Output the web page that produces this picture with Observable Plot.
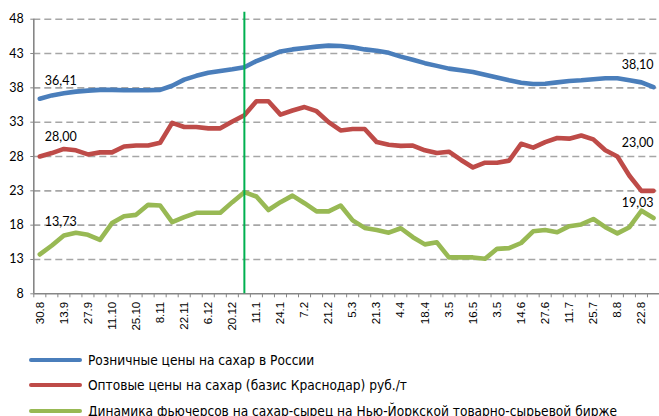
<!DOCTYPE html>
<html><head><meta charset="utf-8">
<script src="https://cdn.jsdelivr.net/npm/d3@7"></script>
<script src="https://cdn.jsdelivr.net/npm/@observablehq/plot@0.6"></script>
<style>
body{margin:0;background:#fff;}
#chart svg{display:block;overflow:visible;}
.legend{font-family:"Liberation Sans Narrow","DejaVu Sans Condensed",sans-serif;font-size:13.6px;color:#000;padding-top:2px;}
.row{display:flex;align-items:center;height:25.5px;}
.sw{width:53px;height:4px;border-radius:2px;margin-left:29px;margin-right:6px;}
</style></head><body>
<div id="chart"></div>
<div class="legend" id="legend"></div>
<script>
// Category tick labels (shown on every other weekly category)
const tickLabels = ["30.8","13.9","27.9","11.10","25.10","8.11","22.11","6.12","20.12","11.1","24.1","7.2","21.2","5.3","21.3","4.4","18.4","3.5","16.5","3.5","14.6","27.6","11.7","25.7","8.8","22.8"];
const categoryCount = 52;
const yTicks = [8,13,18,23,28,33,38,43,48];

// Series values, weekly
const retail = [36.41,36.9,37.2,37.45,37.6,37.7,37.7,37.65,37.65,37.65,37.7,38.3,39.2,39.75,40.2,40.45,40.7,41.0,41.9,42.6,43.3,43.6,43.8,44.0,44.15,44.1,43.9,43.6,43.4,43.1,42.55,42.1,41.6,41.2,40.8,40.55,40.3,39.9,39.5,39.1,38.75,38.55,38.6,38.8,39.0,39.1,39.25,39.4,39.4,39.1,38.8,38.10];
const wholesale = [28.0,28.5,29.1,28.9,28.3,28.6,28.6,29.45,29.6,29.6,30.0,32.9,32.3,32.3,32.1,32.1,33.1,34.0,36.05,36.05,34.1,34.7,35.2,34.6,33.0,31.8,32.0,32.0,30.1,29.7,29.55,29.6,28.9,28.5,28.7,27.5,26.4,27.1,27.1,27.4,29.85,29.3,30.1,30.7,30.6,31.05,30.5,28.9,28.0,25.2,23.0,23.0];
const futures = [13.73,15.04,16.5,16.88,16.6,15.86,18.3,19.3,19.5,20.96,20.86,18.43,19.16,19.8,19.8,19.8,21.35,22.8,22.17,20.2,21.35,22.3,21.2,20.0,20.0,20.86,18.7,17.6,17.3,16.9,17.55,16.25,15.2,15.5,13.3,13.3,13.3,13.1,14.55,14.65,15.4,17.1,17.3,16.97,17.85,18.1,18.9,17.7,16.8,17.7,20.1,19.03];

const seriesNames = ["Розничные цены на сахар в России","Оптовые цены на сахар (базис Краснодар) руб./т","Динамика фьючерсов на сахар-сырец на Нью-Йоркской товарно-сырьевой бирже"];
const seriesColors = ["#4a7ebb","#be4b48","#98b954"];
const markerIndex = [17];
const markerTop = 49;

const fmt = v => d3.format(".2f")(v).replace(".", ",");
const pts = vals => vals.map((v, i) => ({i, v}));
const first = vals => [{i: 0, v: vals[0]}];
const last = vals => [{i: vals.length - 1, v: vals[vals.length - 1]}];

const lineOpts = c => ({x: "i", y: "v", stroke: c, strokeWidth: 4.6, strokeLinejoin: "round", strokeLinecap: "round"});
const labelFont = {fontFamily: "Lato, sans-serif", fontSize: 12.5, fill: "#000"};

const chart = Plot.plot({
  width: 659, height: 345,
  marginLeft: 33.3, marginRight: 0, marginTop: 18.7, marginBottom: 51.7,
  style: {fontFamily: "Lato, sans-serif", background: "#fff"},
  x: {type: "linear", domain: [-0.5, categoryCount - 0.5], axis: null},
  y: {domain: [8, 48], axis: null},
  marks: [
    Plot.gridY(yTicks.filter(t => t > 8), {stroke: "#a6a6a6", strokeOpacity: 1, strokeWidth: 1.6, strokeDasharray: "7,4"}),
    Plot.axisY(yTicks, {label: null, tickSize: 3, tickPadding: 7, stroke: "#868686", fill: "#000", fontSize: 12.5, fontFamily: "Lato, sans-serif"}),
    Plot.axisX(d3.range(-0.5, categoryCount + 0.5, 1), {label: null, tickSize: 4, tickFormat: () => "", stroke: "#868686"}),
    Plot.axisX(d3.range(0, categoryCount, 2), {label: null, tickSize: 0, tickPadding: 8, tickRotate: -90, tickFormat: i => tickLabels[i / 2], fontSize: 11.5, fontFamily: "Liberation Sans, Arial, sans-serif", fill: "#000"}),
    Plot.ruleY([8], {stroke: "#868686", strokeWidth: 1.6}),
    Plot.ruleX([-0.5], {stroke: "#868686", strokeWidth: 1.6}),
    Plot.line(pts(retail), lineOpts(seriesColors[0])),
    Plot.line(pts(wholesale), lineOpts(seriesColors[1])),
    Plot.line(pts(futures), lineOpts(seriesColors[2])),
    Plot.ruleX(markerIndex, {y1: 8, y2: markerTop, stroke: "#00b050", strokeWidth: 2}),
    Plot.text(first(retail), {x: "i", y: "v", text: d => fmt(d.v), textAnchor: "start", dx: 5, dy: -18, ...labelFont}),
    Plot.text(first(wholesale), {x: "i", y: "v", text: d => fmt(d.v), textAnchor: "start", dx: 5, dy: -20, ...labelFont}),
    Plot.text(first(futures), {x: "i", y: "v", text: d => fmt(d.v), textAnchor: "start", dx: 5, dy: -32, ...labelFont}),
    Plot.text(last(retail), {x: "i", y: "v", text: d => fmt(d.v), textAnchor: "end", dx: 0, dy: -22, ...labelFont}),
    Plot.text(last(wholesale), {x: "i", y: "v", text: d => fmt(d.v), textAnchor: "end", dx: 0, dy: -48, ...labelFont}),
    Plot.text(last(futures), {x: "i", y: "v", text: d => fmt(d.v), textAnchor: "end", dx: 0, dy: -15, ...labelFont})
  ]
});
document.getElementById("chart").appendChild(chart);

const legend = document.getElementById("legend");
seriesNames.forEach((name, k) => {
  const row = document.createElement("div");
  row.className = "row";
  const sw = document.createElement("span");
  sw.className = "sw";
  sw.style.background = seriesColors[k];
  const tx = document.createElement("span");
  tx.textContent = name;
  row.appendChild(sw);
  row.appendChild(tx);
  legend.appendChild(row);
});
</script>
</body></html>
